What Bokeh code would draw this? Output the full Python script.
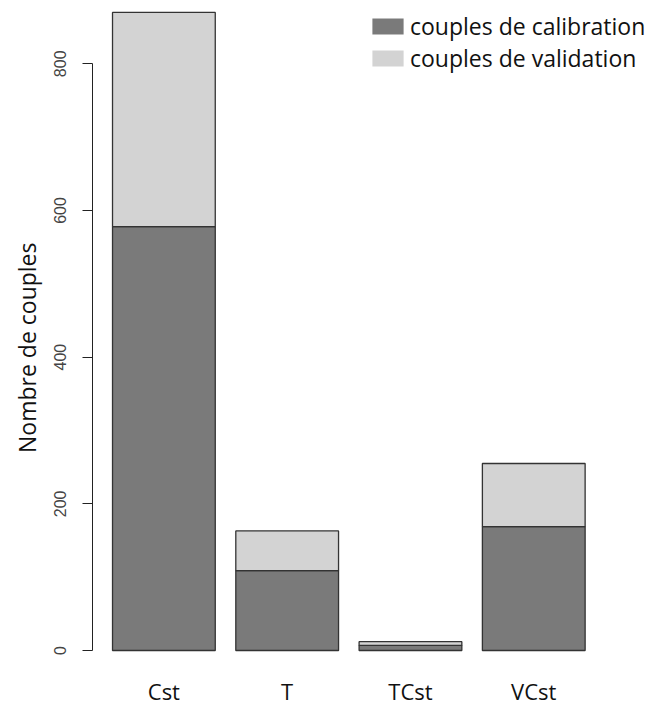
from bokeh.plotting import figure
from bokeh.models import Range1d, FixedTicker, Legend, LegendItem, ColumnDataSource, Title
from bokeh.embed import file_html
from bokeh.resources import INLINE

categories = ["Cst", "T", "TCst", "VCst"]
calibration = [578, 109, 7, 169]
validation = [292, 54, 5, 86]
series = ["calibration", "validation"]
legend_labels = ["couples de calibration", "couples de validation"]
colors = ["#7a7a7a", "#d3d3d3"]
y_ticks = [0, 200, 400, 600, 800]

xpos = [i + 0.5 for i in range(len(categories))]
src = ColumnDataSource(dict(x=xpos, cat=categories,
                            calibration=calibration, validation=validation))

p = figure(
    width=651, height=706,
    x_range=Range1d(-0.079, 4.455),
    y_range=Range1d(-76.36, 886.3),
    output_backend="svg", toolbar_location=None,
    min_border_left=92, min_border_right=0, min_border_top=0, min_border_bottom=0,
)
p.outline_line_color = None
p.grid.visible = False
p.background_fill_color = "white"
p.border_fill_color = "white"

p.vbar_stack(series, x="x", width=1/1.2, source=src, color=colors,
             line_color="#333333", line_width=1.3)

# legend proxies: zero-height bars, invisible in the plot
r1 = p.vbar(x="x", bottom=0, top=0, width=0.5, source=src,
            fill_color=colors[0], line_color=None)
r2 = p.vbar(x="x", bottom=0, top=0, width=0.5, source=src,
            fill_color=colors[1], line_color=None)
legend = Legend(items=[LegendItem(label=legend_labels[0], renderers=[r1], index=0),
                       LegendItem(label=legend_labels[1], renderers=[r2], index=0)],
                location=(276, 632), orientation="vertical",
                glyph_width=39, glyph_height=20, label_standoff=3,
                spacing=0, padding=0, margin=0,
                border_line_color=None, background_fill_alpha=0,
                label_text_font="Open Sans", label_text_font_size="23px",
                label_text_color="#111111")
p.add_layout(legend, "center")

# y axis: ticks and labels
ya = p.yaxis[0]
ya.ticker = FixedTicker(ticks=y_ticks)
ya.bounds = (0, 800)
ya.axis_line_color = "#222222"
ya.major_tick_line_color = "#222222"
ya.major_tick_out = 10
ya.major_tick_in = 0
ya.minor_tick_line_color = None
ya.major_label_orientation = "vertical"
ya.major_label_standoff = 16
ya.major_label_text_font = "Liberation Sans"
ya.major_label_text_font_size = "16px"
ya.major_label_text_color = "#444444"

# y axis title
ytitle = Title(text="Nombre de couples", align="right", offset=242, standoff=14,
               vertical_align="top",
               text_font="Open Sans", text_font_size="23px",
               text_font_style="normal", text_color="#111111")
p.add_layout(ytitle, "left")

# x axis (category labels only)
xa = p.xaxis[0]
xa.ticker = FixedTicker(ticks=xpos, minor_ticks=[])
xa.major_label_overrides = {x: c for x, c in zip(xpos, categories)}
xa.fixed_location = -10
xa.axis_line_color = None
xa.major_tick_line_color = None
xa.minor_tick_line_color = None
xa.major_label_standoff = 12
xa.major_label_text_font = "Open Sans"
xa.major_label_text_font_size = "22px"
xa.major_label_text_color = "#111111"

open("out.html", "w").write(file_html(p, INLINE))
